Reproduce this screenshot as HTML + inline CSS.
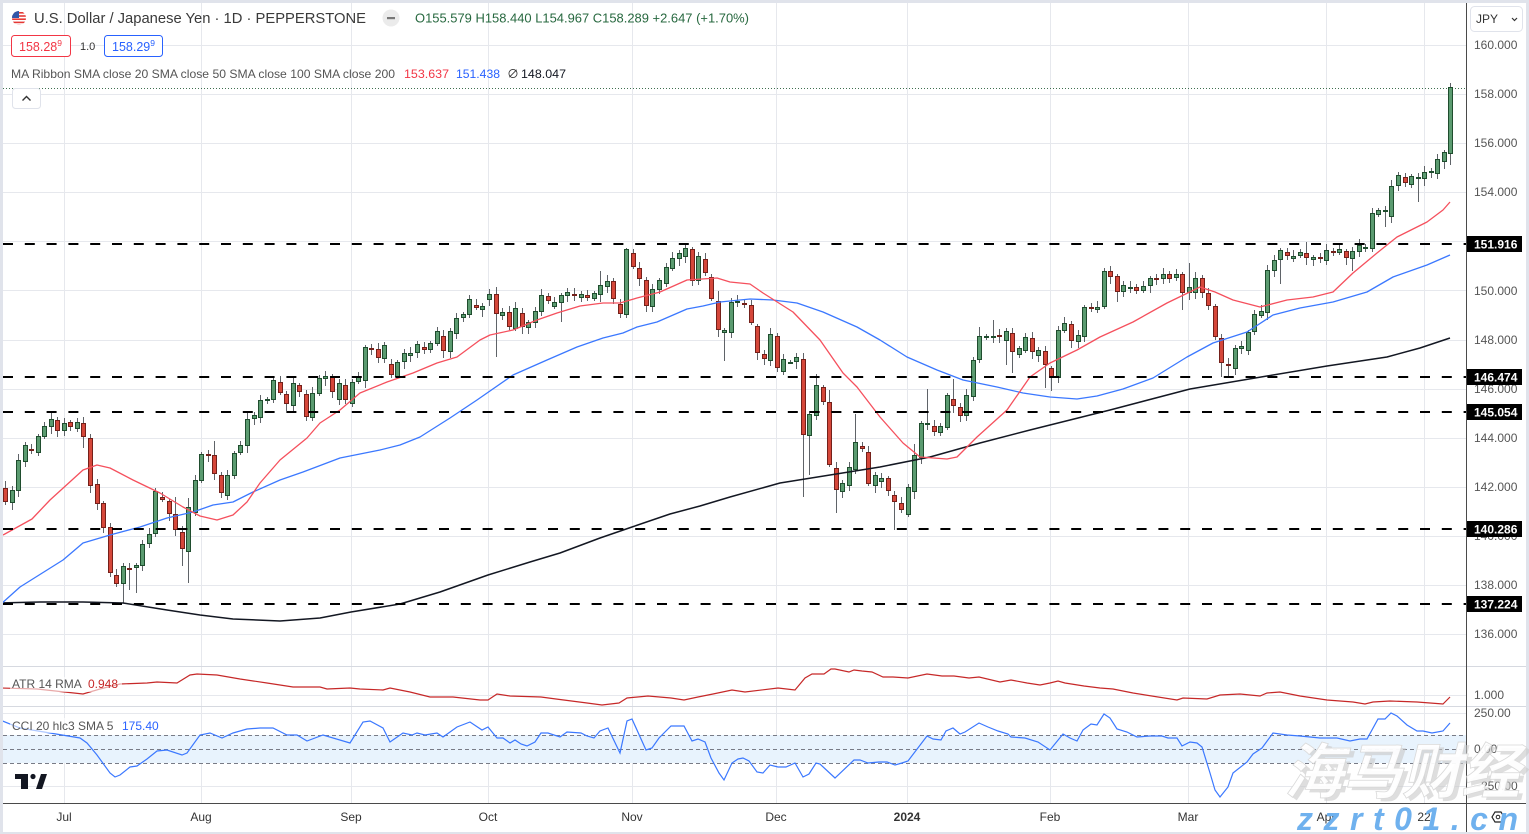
<!DOCTYPE html>
<html><head><meta charset="utf-8">
<style>
html,body{margin:0;padding:0;background:#fff;overflow:hidden;}
svg{display:block;}
text{font-family:"Liberation Sans","Noto Sans CJK SC",sans-serif;}
</style></head>
<body>
<svg width="1529" height="834" viewBox="0 0 1529 834" xmlns="http://www.w3.org/2000/svg">
<defs>
<clipPath id="mp"><rect x="3" y="3" width="1463" height="663"/></clipPath>
<clipPath id="ap"><rect x="3" y="667" width="1463" height="40"/></clipPath>
<clipPath id="cp"><rect x="3" y="707" width="1463" height="96"/></clipPath>
<clipPath id="fl"><circle cx="19" cy="18" r="7"/></clipPath>
</defs>
<rect width="1529" height="834" fill="#e0e3eb"/>
<rect x="3" y="3" width="1523" height="829" fill="#fff"/>

<g stroke="#e6e8ed" stroke-width="1" fill="none">
<path d="M3 45.5H1466M3 94.5H1466M3 143.5H1466M3 192.5H1466M3 241.5H1466M3 290.5H1466M3 340.5H1466M3 389.5H1466M3 438.5H1466M3 487.5H1466M3 536.5H1466M3 585.5H1466M3 634.5H1466M3 695.5H1466M3 713.5H1466M3 786.5H1466"/>
<path d="M64.5 3V803M201.5 3V803M351.5 3V803M488.5 3V803M632.5 3V803M776.5 3V803M907.5 3V803M1050.5 3V803M1188.5 3V803M1326.5 3V803M1424.5 3V803"/>
</g>
<g stroke="#d6d9e0" stroke-width="1">
<path d="M3 666.5H1526M3 706.5H1526"/>
</g>

<rect x="3" y="735" width="1463" height="28" fill="#e8f3fd"/>
<g stroke="#787b86" stroke-width="1" stroke-dasharray="4 3">
<path d="M3 735.5H1466M3 749.5H1466M3 763.5H1466"/>
</g>

<path d="M3 88.5H1466" stroke="#3f6f50" stroke-width="1" stroke-dasharray="1 2"/>

<g id="cd" clip-path="url(#mp)"></g>

<g clip-path="url(#mp)" fill="none" stroke-linejoin="round">
<polyline stroke="#131722" stroke-width="1.5" points="0,603 40,602 83,602 123,603 167,610 200,615 233,619 280,621 320,618 351,612 400,604 440,592 488,575 530,562 560,553 600,538 632,527 670,514 700,506 730,497 780,483 830,475 880,467 930,457 980,443 1030,430 1110,410 1190,389 1267,376 1327,366 1387,357 1420,348 1450,338"/>
<polyline stroke="#3b78ff" stroke-width="1.3" points="0,605 20,587 63,560 83,543 110,535 140,527 167,518 193,512 213,505 233,502 253,492 280,480 303,472 340,458 380,450 400,445 420,437 450,418 477,400 513,375 547,360 577,347 603,338 623,333 637,327 657,322 687,309 703,306 720,302 750,299 773,300 797,303 823,312 857,327 880,340 907,357 937,370 963,380 997,387 1023,393 1050,397 1077,399 1097,396 1123,389 1153,378 1187,357 1213,343 1247,332 1273,315 1300,308 1333,302 1367,292 1393,277 1427,265 1450,255"/>
<polyline stroke="#f5505d" stroke-width="1.3" points="3,535 32,519 50,500 83,470 97,465 110,468 133,480 160,493 183,507 200,516 217,520 233,515 247,502 260,483 280,460 307,438 320,423 340,410 360,393 387,382 413,373 437,363 457,357 480,340 490,335 513,330 537,320 557,313 580,306 603,303 620,303 637,298 660,292 687,280 717,278 730,282 750,284 763,293 793,312 820,340 843,373 857,387 880,417 903,443 920,457 947,459 957,457 977,437 1007,410 1030,377 1050,363 1077,350 1100,337 1133,322 1167,303 1200,287 1215,292 1233,300 1260,307 1287,300 1313,297 1333,292 1353,273 1377,253 1397,237 1427,222 1443,210 1450,202"/>
</g>

<g stroke="#000" stroke-width="2" stroke-dasharray="10 11.8">
<path d="M3 244H1466M3 377H1466M3 412H1466M3 529H1466M3 604H1466"/>
</g>

<g clip-path="url(#ap)" fill="none">
<polyline stroke="#c62828" stroke-width="1.2" points="0,688 37,689 83,694 100,689 120,684 147,683 157,682 177,683 190,675 197,674 217,675 240,679 267,683 293,687 320,687 327,689 350,688 360,689 383,690 390,688 410,692 430,697 453,697 480,700 488,700 497,694 510,696 541,697 556,699 587,703 602,705 619,703 627,698 648,696 671,698 684,700 698,697 713,694 732,690 745,692 778,688 795,690 805,678 812,674 824,674 831,669 835,669 849,672 854,670 862,671 872,672 883,677 893,677 908,678 927,674 942,676 954,676 969,678 979,677 1000,682 1011,680 1027,683 1040,685 1050,683 1058,681 1065,683 1084,686 1100,688 1113,689 1133,693 1177,700 1183,698 1207,699 1220,695 1240,694 1260,696 1267,693 1280,692 1300,696 1327,700 1353,702 1365,704 1373,702 1390,701 1417,702 1443,704 1450,697"/>
</g>

<g clip-path="url(#cp)" fill="none">
<polyline stroke="#3b78ff" stroke-width="1.2" points="0,720 20,728 80,738 87,743 97,755 110,773 115,777 120,775 130,767 137,766 147,759 157,751 167,750 182,755 187,753 200,735 210,733 222,738 233,733 247,729 260,728 273,728 287,735 297,735 307,741 323,735 350,743 363,722 370,721 383,728 390,742 403,733 412,735 417,733 425,735 437,733 443,737 457,727 470,722 482,730 488,727 497,738 503,738 510,743 515,740 521,744 527,746 535,742 541,733 548,733 560,737 567,732 581,733 587,736 594,738 600,731 608,728 620,753 627,721 632,719 646,750 652,748 659,738 671,726 684,726 692,741 698,739 705,742 711,758 719,773 724,780 732,763 738,759 743,758 749,761 757,772 763,773 770,765 778,767 786,767 795,763 803,777 809,774 816,763 820,764 835,778 854,760 860,760 868,763 879,762 887,762 895,765 902,763 908,761 927,736 933,739 941,740 946,731 953,728 960,734 965,732 979,723 988,727 998,731 1008,734 1011,737 1025,738 1038,742 1050,750 1063,734 1070,738 1077,741 1083,730 1091,724 1097,725 1104,714 1110,718 1117,729 1127,732 1137,737 1150,736 1162,736 1168,738 1177,738 1182,746 1190,742 1197,743 1202,747 1210,773 1215,790 1220,797 1228,787 1233,773 1247,762 1253,754 1262,748 1273,733 1287,735 1300,736 1320,738 1337,738 1350,741 1360,739 1367,739 1378,719 1385,719 1391,713 1397,716 1407,725 1417,731 1423,731 1432,733 1443,731 1450,723"/>
</g>

<path d="M1466.5 3V832" stroke="#4a4a4a" stroke-width="1"/>
<path d="M3 803.5H1526" stroke="#4a4a4a" stroke-width="1"/>

<g font-size="12" fill="#555">
<text x="1474" y="49">160.000</text>
<text x="1474" y="98">158.000</text>
<text x="1474" y="147">156.000</text>
<text x="1474" y="196">154.000</text>
<text x="1474" y="295">150.000</text>
<text x="1474" y="344">148.000</text>
<text x="1474" y="393">146.000</text>
<text x="1474" y="442">144.000</text>
<text x="1474" y="491">142.000</text>
<text x="1474" y="540">140.000</text>
<text x="1474" y="589">138.000</text>
<text x="1474" y="638">136.000</text>
<text x="1474" y="699">1.000</text>
<text x="1474" y="717">250.00</text>
<text x="1474" y="753">0.00</text>
<text x="1474" y="790">−250.00</text>
</g>
<g>
<rect x="1467" y="236" width="55" height="16" fill="#000"/>
<rect x="1467" y="369" width="55" height="16" fill="#000"/>
<rect x="1467" y="404" width="55" height="16" fill="#000"/>
<rect x="1467" y="521" width="55" height="16" fill="#000"/>
<rect x="1467" y="596" width="55" height="16" fill="#000"/>
</g>
<g font-size="12" font-weight="bold" fill="#fff">
<text x="1474" y="248.5">151.916</text>
<text x="1474" y="381.5">146.474</text>
<text x="1474" y="416.5">145.054</text>
<text x="1474" y="533.5">140.286</text>
<text x="1474" y="608.5">137.224</text>
</g>

<rect x="1470.5" y="6.5" width="52" height="25" rx="4" fill="#fff" stroke="#e0e3eb"/>
<text x="1476" y="23" font-size="12" fill="#333">JPY</text>
<path d="M1512 18l2.5 2.5 2.5-2.5" stroke="#333" stroke-width="1.2" fill="none"/>

<g font-size="12" fill="#333" text-anchor="middle">
<text x="64" y="821">Jul</text>
<text x="201" y="821">Aug</text>
<text x="351" y="821">Sep</text>
<text x="488" y="821">Oct</text>
<text x="632" y="821">Nov</text>
<text x="776" y="821">Dec</text>
<text x="907" y="821" font-weight="bold">2024</text>
<text x="1050" y="821">Feb</text>
<text x="1188" y="821">Mar</text>
<text x="1326" y="821">Apr</text>
<text x="1424" y="821">22</text>
</g>

<g clip-path="url(#fl)">
<rect x="11" y="10" width="16" height="16" fill="#fff"/>
<rect x="11" y="12" width="16" height="1.6" fill="#e53935"/>
<rect x="11" y="15.2" width="16" height="1.6" fill="#e53935"/>
<rect x="11" y="18.4" width="16" height="1.6" fill="#e53935"/>
<rect x="11" y="21.6" width="16" height="1.6" fill="#e53935"/>
<rect x="11" y="24.8" width="16" height="1.6" fill="#e53935"/>
<rect x="11" y="10" width="8" height="8" fill="#3056a8"/>
</g>
<text x="34" y="23" font-size="14.5" fill="#3a3a3a" textLength="332" lengthAdjust="spacingAndGlyphs">U.S. Dollar / Japanese Yen · 1D · PEPPERSTONE</text>
<circle cx="391" cy="18" r="8.5" fill="#ebebeb"/>
<rect x="387" y="17" width="8" height="2.2" fill="#777"/>
<text x="415" y="22.5" font-size="12.5" fill="#27683f" textLength="334" lengthAdjust="spacingAndGlyphs">O155.579 H158.440 L154.967 C158.289 +2.647 (+1.70%)</text>

<rect x="11.5" y="35.5" width="59" height="21" rx="3" fill="#fff" stroke="#f23645"/>
<text x="19" y="51" font-size="12.5" fill="#f23645">158.28<tspan font-size="8.5" dy="-5">9</tspan></text>
<text x="80" y="50" font-size="11" fill="#333">1.0</text>
<rect x="104.5" y="35.5" width="58" height="21" rx="3" fill="#fff" stroke="#2962ff"/>
<text x="112" y="51" font-size="12.5" fill="#2962ff">158.29<tspan font-size="8.5" dy="-5">9</tspan></text>

<text x="11" y="78" font-size="12" fill="#555" textLength="384" lengthAdjust="spacingAndGlyphs">MA Ribbon SMA close 20 SMA close 50 SMA close 100 SMA close 200</text>
<text x="404" y="78" font-size="12" fill="#f23645" textLength="45" lengthAdjust="spacingAndGlyphs">153.637</text>
<text x="456" y="78" font-size="12" fill="#2962ff" textLength="44" lengthAdjust="spacingAndGlyphs">151.438</text>
<text x="507" y="78" font-size="12" fill="#333">∅</text>
<text x="521" y="78" font-size="12" fill="#131722" textLength="45" lengthAdjust="spacingAndGlyphs">148.047</text>

<rect x="12.5" y="88.5" width="28" height="20" rx="3" fill="#fff" stroke="#e0e3eb"/>
<path d="M22.5 100.5l4-4 4 4" stroke="#333" stroke-width="1.4" fill="none"/>

<rect x="10" y="677" width="112" height="15" fill="#fff" fill-opacity="0.6"/>
<text x="12" y="688" font-size="12" fill="#555">ATR 14 RMA</text>
<text x="88" y="688" font-size="12" fill="#c62828">0.948</text>
<rect x="10" y="718" width="155" height="15" fill="#fff" fill-opacity="0.6"/>
<text x="12" y="730" font-size="12" fill="#555">CCI 20 hlc3 SMA 5</text>
<text x="122" y="730" font-size="12" fill="#2962ff">175.40</text>

<g fill="#131722">
<rect x="15" y="774" width="13" height="5"/>
<rect x="21" y="774" width="7" height="15"/>
<circle cx="33" cy="776.5" r="2.6"/>
<polygon points="36,789 41,774 47,774 42,789"/>
</g>

<polygon points="1492,817 1495,812 1501,812 1504,817 1501,822 1495,822" fill="none" stroke="#222" stroke-width="1.2"/>
<circle cx="1498" cy="817" r="1.8" fill="none" stroke="#222" stroke-width="1"/>

<text x="1288" y="796" font-size="60" font-weight="bold" font-style="italic" fill="#c8c8c8" fill-opacity="0.6" textLength="236" lengthAdjust="spacingAndGlyphs" style="font-family:'Noto Sans CJK SC','WenQuanYi Zen Hei',sans-serif">海马财经</text>
<text x="1284" y="793" font-size="60" font-weight="bold" font-style="italic" fill="#ffffff" fill-opacity="0.92" stroke="#d9d9d9" stroke-width="0.8" textLength="236" lengthAdjust="spacingAndGlyphs" style="font-family:'Noto Sans CJK SC','WenQuanYi Zen Hei',sans-serif">海马财经</text>
<text x="1297" y="830" font-size="32" font-weight="bold" font-style="italic" fill="#6fb1ee" textLength="221" lengthAdjust="spacing">zzrt01.cn</text>
</svg>
<script>
(function(){
var D=[488,502,503,490,491,460,462,445,449,450,453,436,437,426,427,419,420,431,431,423,422,427,429,422,423,437,438,486,484,504,503,528,527,573,575,584,584,566,568,569,568,565,566,544,544,534,534,491,497,500,501,514,514,530,532,549,552,507,513,480,481,454,454,455,455,474,475,493,496,475,476,453,453,445,446,419,419,415,418,400,400,399,400,380,382,393,394,404,406,383,385,392,394,417,418,393,394,378,379,376,376,392,400,383,385,400,404,382,382,377,381,347,348,349,349,358,359,345,364,375,377,362,362,353,356,353,353,344,347,350,350,343,344,331,336,351,352,331,334,318,318,314,315,299,305,308,310,306,300,294,294,314,316,312,312,327,329,308,313,327,328,322,323,311,312,295,296,301,307,302,303,295,296,292,294,296,298,294,295,298,299,293,295,285,287,281,281,299,304,314,315,249,253,267,268,279,280,306,307,289,290,280,284,267,269,258,259,253,257,248,249,281,281,256,259,273,277,299,301,330,333,330,333,302,303,301,303,305,305,323,326,353,354,359,361,334,336,368,372,359,362,362,362,357,359,435,436,414,416,385,387,402,402,465,468,490,492,483,486,467,470,442,446,449,452,484,486,475,482,478,478,491,495,502,503,510,515,487,492,455,458,423,425,423,426,432,433,426,428,395,399,406,407,416,416,395,397,360,360,336,338,336,338,336,335,337,341,331,333,352,355,348,351,337,338,352,356,350,351,365,368,378,378,330,331,323,324,341,342,335,337,307,307,308,310,307,307,271,271,277,276,292,292,285,289,287,287,291,291,286,286,278,278,279,279,274,274,279,278,274,274,293,293,287,293,278,278,293,293,306,306,337,338,363,364,365,369,348,349,346,351,332,332,314,316,311,313,270,271,260,260,250,252,256,259,256,256,252,253,258,260,257,257,258,261,250,251,253,253,249,251,258,259,251,252,245,248,247,249,213,215,210,211,210,217,186,186,175,177,183,185,176,178,177,179,172,172,171,174,159,162,152,154,87];
var W={0:[481,505],2:[0,497],12:[0,448],13:[434,0],17:[0,587],18:[0,603],19:[0,590],20:[0,593],26:[497,0],27:[0,566],28:[498,583],32:[441,0],75:[287,357],78:[302,0],85:[0,322],91:[271,0],95:[248,0],109:[291,0],110:[0,361],122:[0,497],123:[0,475],124:[374,0],126:[390,0],127:[0,513],130:[414,0],136:[0,530],139:[444,0],141:[389,0],144:[393,0],145:[379,0],149:[327,0],151:[320,343],153:[0,365],154:[0,373],159:[0,388],160:[0,391],161:[0,383],170:[0,302],180:[0,310],181:[263,0],186:[0,377],187:[0,378],193:[265,0],195:[0,284],199:[242,0],206:[0,271],211:[0,227],214:[173,0],216:[0,202],220:[0,169],221:[83,165]};
var NS='http://www.w3.org/2000/svg';
var g=document.getElementById('cd');
var n=D.length/2;
function mk(tag,attrs){var e=document.createElementNS(NS,tag);for(var k in attrs){e.setAttribute(k,attrs[k]);}g.appendChild(e);}
for(var i=0;i<n;i++){
 var o=D[2*i],c=D[2*i+1];
 var cx=Math.round(5+i*6.54);
 var t=Math.min(o,c),b=Math.max(o,c);
 var hi=t-(2+(i*7)%5),lo=b+(2+(i*11)%6);
 var w=W[i]; if(w){if(w[0])hi=w[0]; if(w[1])lo=w[1];}
 var up=c<=o;
 var fill=up?'#5b9b70':'#d5473a', br=up?'#1f4d2e':'#74201a';
 mk('line',{x1:cx+0.5,y1:hi,x2:cx+0.5,y2:lo,stroke:'#5f6368','stroke-width':1});
 var h=b-t;
 if(h<2){
  mk('rect',{x:cx-2,y:t,width:5,height:2,fill:br});
 } else {
  mk('rect',{x:cx-1.5,y:t+0.5,width:4,height:h-1,fill:fill,stroke:br,'stroke-width':1});
 }
}
})();
</script>
</body></html>
